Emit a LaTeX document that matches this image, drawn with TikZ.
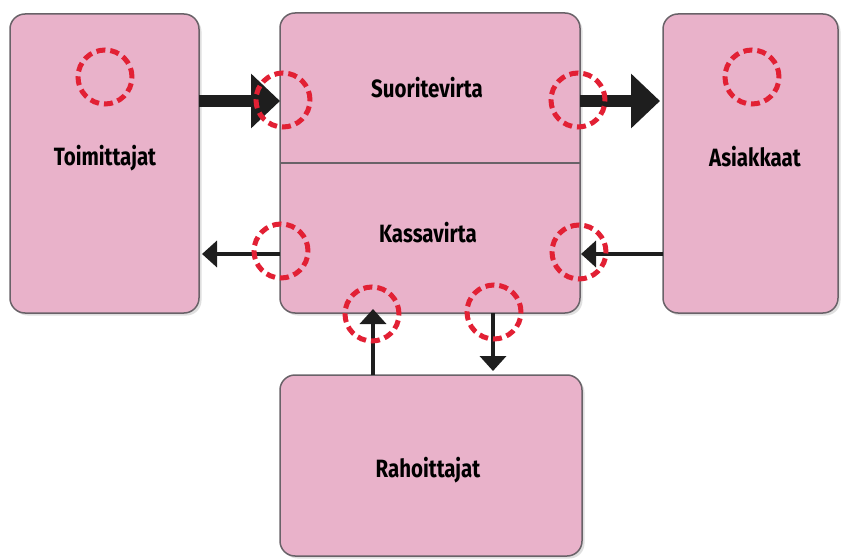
\documentclass[tikz,border=0pt]{standalone}
\usepackage{fontspec}
\setmainfont{Fira Sans}[FakeStretch=0.82]
\usetikzlibrary{arrows.meta,shadows}
\definecolor{boxpink}{RGB}{233,178,202}
\definecolor{boxline}{RGB}{105,98,104}
\definecolor{circred}{RGB}{226,32,52}
\definecolor{arrowblack}{RGB}{30,30,30}
\tikzset{
  box/.style={draw=boxline, line width=1.5pt, fill=boxpink, rounded corners=15pt,
    inner sep=0pt, outer sep=0pt,
    drop shadow={opacity=0.25, shadow xshift=2.5pt, shadow yshift=-2.5pt}},
  lbl/.style={font=\fontsize{25}{28}\selectfont\bfseries, text=black, inner sep=0pt},
  ring/.style={circle, draw=circred, line width=5pt, dash pattern=on 9pt off 5pt,
    minimum size=54pt, inner sep=0pt},
  thickarrow/.style={draw=arrowblack, line width=12pt,
    -{Triangle[width=53pt,length=29pt]}},
  thinarrow/.style={draw=arrowblack, line width=4.5pt,
    -{Triangle[width=26pt,length=15pt]}}
}
\begin{document}
\begin{tikzpicture}[x=1pt,y=-1pt]
\useasboundingbox (0,0) rectangle (841,559);
% boxes
\node[box, minimum width=189pt, minimum height=299pt] (toim) at (104.5,163.5) {};
\node[box, minimum width=300pt, minimum height=300pt] (kesk) at (430,163) {};
\node[box, minimum width=175pt, minimum height=299pt] (asi) at (750.5,163.5) {};
\node[box, minimum width=302pt, minimum height=181pt] (raho) at (431,465.5) {};
\draw[draw=boxline, line width=1.5pt] (kesk.west) -- (kesk.east);
% labels
\node[lbl] (ltoim) at (105,158) {Toimittajat};
\node[lbl] (lsuor) at (427,88) {Suoritevirta};
\node[lbl] (lkass) at (428,233) {Kassavirta};
\node[lbl] (lasi) at (755,157) {Asiakkaat};
\node[lbl] (lraho) at (428,470) {Rahoittajat};
% arrow anchor coordinates
\coordinate (a1s) at (toim.east |- 0,101);
\coordinate (a1e) at (kesk.west |- 0,101);
\coordinate (a2s) at (kesk.east |- 0,101);
\coordinate (a2e) at (asi.west |- 0,101);
\coordinate (a3s) at (kesk.west |- 0,254);
\coordinate (a3e) at (toim.east |- 0,254);
\coordinate (a4s) at (asi.west |- 0,254);
\coordinate (a4e) at (kesk.east |- 0,254);
\coordinate (a5s) at (373,0 |- raho.north);
\coordinate (a5e) at (373,0 |- kesk.south);
\coordinate (a6s) at (493,0 |- kesk.south);
\coordinate (a6e) at (493,0 |- raho.north);
% arrows
\draw[thickarrow] (a1s) -- (a1e);
\draw[thickarrow, shorten >=3pt] (a2s) -- (a2e);
\draw[thinarrow, shorten >=3pt] (a3s) -- (a3e);
\draw[thinarrow, shorten >=1pt] (a4s) -- (a4e);
\draw[thinarrow, shorten >=-4pt] (a5s) -- (a5e);
\draw[thinarrow, shorten >=4pt] (a6s) -- (a6e);
% red dashed rings
\node[ring] (r1) at (105,77) {};
\node[ring] (r2) at (283,100) {};
\node[ring] (r3) at (578,100) {};
\node[ring] (r4) at (752,77) {};
\node[ring] (r5) at (281,251) {};
\node[ring] (r6) at (579,252) {};
\node[ring] (r7) at (372,314) {};
\node[ring] (r8) at (494,312) {};
\end{tikzpicture}
\end{document}
